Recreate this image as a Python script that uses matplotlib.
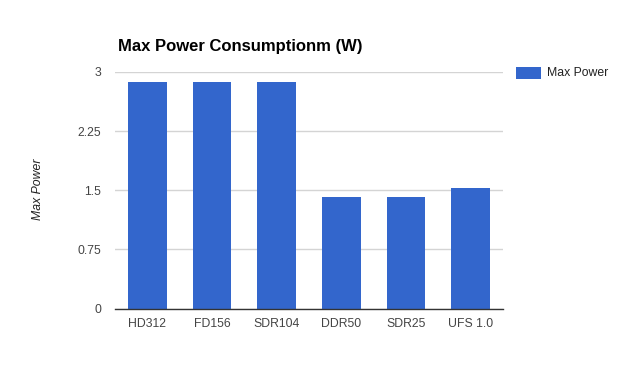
import matplotlib
matplotlib.use("Agg")
import matplotlib.pyplot as plt
from matplotlib.patches import Rectangle

categories = ["HD312", "FD156", "SDR104", "DDR50", "SDR25", "UFS 1.0"]
values = [2.87, 2.87, 2.87, 1.42, 1.42, 1.53]
yticks = [0, 0.75, 1.5, 2.25, 3]
ytick_labels = ["0", "0.75", "1.5", "2.25", "3"]
title = "Max Power Consumptionm (W)"
series_name = "Max Power"

plt.rcParams['font.family'] = ['Liberation Sans', 'DejaVu Sans']
W, H = 620, 382
fig = plt.figure(figsize=(W / 100, H / 100), dpi=100)
fig.patch.set_facecolor("white")

ax = fig.add_axes([115 / W, 1 - 308.5 / H, (503 - 115) / W, (308.5 - 72) / H])
bar_color = "#3366CC"
ax.bar(range(len(categories)), values, width=0.6, color=bar_color, zorder=3, label=series_name)
ax.set_xlim(-0.5, len(categories) - 0.5)
ax.set_ylim(0, 3)
ax.set_yticks(yticks)
ax.set_yticklabels(ytick_labels)
ax.set_xticks(range(len(categories)))
ax.set_xticklabels(categories)
for s in ["top", "right", "left"]:
    ax.spines[s].set_visible(False)
ax.spines["bottom"].set_color("#333333")
ax.spines["bottom"].set_linewidth(1.0)
ax.spines["bottom"].set_zorder(4)
ax.grid(axis="y", color="#d4d4d4", linewidth=1.0, zorder=0)
ax.tick_params(axis="both", length=0, labelsize=8.8, colors="#444444")
ax.tick_params(axis="y", pad=10)
ax.tick_params(axis="x", pad=7)

fig.text(118 / W, 1 - 46 / H, title, fontsize=12, fontweight="bold", color="#000000",
         ha="left", va="center")
fig.text(38 / W, 1 - 189 / H, series_name, fontsize=8.8, style="italic", color="#222222",
         rotation=90, ha="center", va="center")

# legend
fig.patches.append(Rectangle((516 / W, 1 - 79 / H), 25 / W, 12 / H, transform=fig.transFigure,
                             facecolor=bar_color, edgecolor="none"))
fig.text(547 / W, 1 - 73 / H, series_name, fontsize=8.8, color="#222222", ha="left", va="center")

fig.savefig("out.png", dpi=100)
